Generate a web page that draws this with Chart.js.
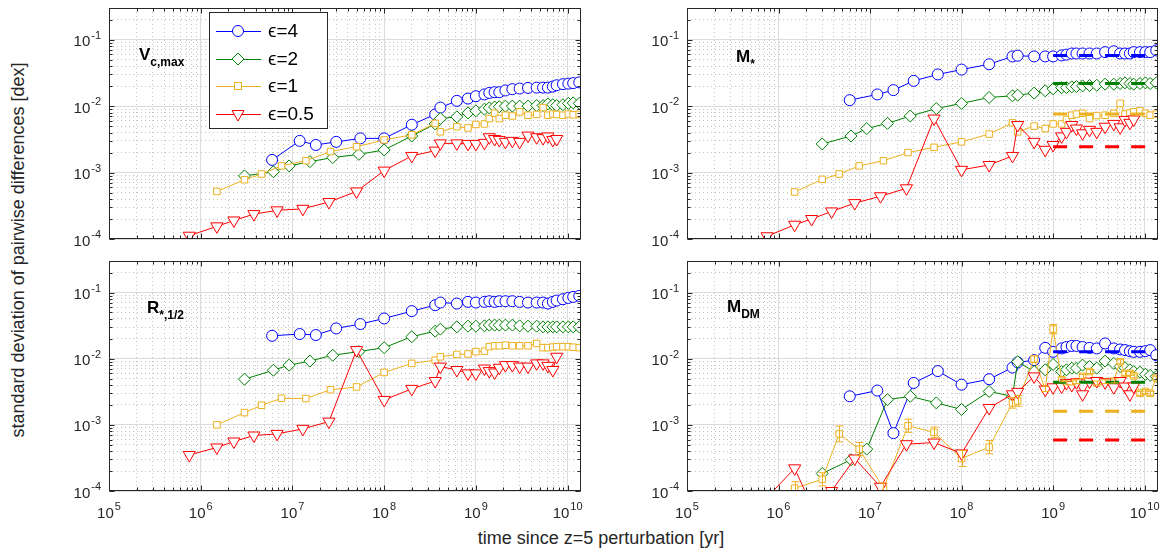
<!DOCTYPE html>
<html>
<head>
<meta charset="utf-8">
<script src="https://cdn.jsdelivr.net/npm/chart.js@4.4.1/dist/chart.umd.min.js"></script>
<style>
html, body { margin: 0; padding: 0; background: #fff; width: 1167px; height: 554px; overflow: hidden; position: relative;
  font-family: 'Liberation Sans', Arial, Helvetica, sans-serif; color: #000; }
canvas { position: absolute; }
.lab { position: absolute; font-weight: bold; font-size: 17px; line-height: 17px; white-space: nowrap; z-index: 2; }
.lab sub { font-size: 12px; vertical-align: -6px; line-height: 0; }
.title { position: absolute; font-size: 18px; white-space: nowrap; transform: translate(-50%, -50%); color: #262626; }
#legend { position: absolute; left: 209px; top: 12px; width: 117px; height: 115px; border: 1px solid #262626;
  background: #fff; z-index: 3; }
#legend .row { position: absolute; left: 0; height: 28px; width: 117px; }
#legend svg { position: absolute; left: 5px; top: 0; }
#legend span { position: absolute; left: 58px; top: 3px; font-size: 19px; line-height: 22px; }
</style>
</head>
<body>

<div class="title" style="left:601px; top:538px;">time since z=5 perturbation [yr]</div>
<div class="title" style="left:18px; top:250px; transform: translate(-50%, -50%) rotate(-90deg);">standard deviation of pairwise differences [dex]</div>

<div class="lab" style="left:139px; top:46px;">V<sub>c,max</sub></div>
<div class="lab" style="left:736px; top:48px;">M<sub>*</sub></div>
<div class="lab" style="left:147px; top:299px;">R<sub>*,1/2</sub></div>
<div class="lab" style="left:727px; top:298px;">M<sub>DM</sub></div>

<div id="legend"></div>

<script>
// snapshot times [yr] for each softening run
const tEps4 = [6e6, 1.2e7, 1.8e7, 3e7, 5.5e7, 1e8, 2e8, 3.6e8, 4.1e8, 6.2e8, 8.2e8, 1e9, 1.24e9, 1.4e9, 1.6e9, 1.8e9, 2.1e9, 2.5e9, 3e9, 3.7e9, 4.6e9, 5.4e9, 6.1e9, 6.9e9, 7.6e9, 8.9e9, 1.02e10, 1.15e10, 1.34e10];
const tEps2 = [3e6, 6.2e6, 9.2e6, 1.55e7, 2.75e7, 5.3e7, 1e8, 2e8, 3.6e8, 4.1e8, 6.2e8, 8.2e8, 1e9, 1.24e9, 1.4e9, 1.6e9, 1.8e9, 2.1e9, 2.5e9, 3e9, 3.7e9, 4.6e9, 5.4e9, 6.1e9, 6.9e9, 7.6e9, 8.9e9, 1.02e10, 1.15e10, 1.34e10];
const tEps1 = [1.5e6, 3e6, 4.6e6, 7.6e6, 1.4e7, 2.6e7, 5e7, 1e8, 2e8, 3.6e8, 4.1e8, 6.2e8, 8.2e8, 1e9, 1.24e9, 1.4e9, 1.6e9, 1.8e9, 2.1e9, 2.5e9, 3e9, 3.7e9, 4.6e9, 5.4e9, 6.1e9, 6.9e9, 7.6e9, 8.9e9, 1.02e10, 1.15e10, 1.34e10];
const tEps05 = [7.5e5, 1.5e6, 2.3e6, 3.8e6, 6.8e6, 1.3e7, 2.5e7, 5e7, 1e8, 2e8, 3.6e8, 4.1e8, 6.2e8, 8.2e8, 1e9, 1.24e9, 1.4e9, 1.6e9, 1.8e9, 2.1e9, 2.5e9, 3e9, 3.7e9, 4.6e9, 5.4e9, 6.1e9, 6.9e9, 7.6e9];

// V_c,max
const vcEps4 = [1.55e-3, 3.0e-3, 2.6e-3, 2.9e-3, 3.27e-3, 3.27e-3, 5.25e-3, 7.5e-3, 9.5e-3, 0.012, 0.013, 0.0141, 0.015, 0.0158, 0.0162, 0.0162, 0.0172, 0.018, 0.0184, 0.0188, 0.019, 0.019, 0.019, 0.0197, 0.0206, 0.0214, 0.0218, 0.0222, 0.0228];
const vcEps2 = [8.9e-4, 1.03e-3, 1.26e-3, 1.46e-3, 1.68e-3, 1.88e-3, 2.19e-3, 3.55e-3, 5.4e-3, 6.5e-3, 6.9e-3, 7.9e-3, 8.5e-3, 9.0e-3, 9.4e-3, 9.7e-3, 9.8e-3, 0.01, 0.01, 0.01, 0.01, 0.0102, 0.0102, 0.0108, 0.0105, 0.0102, 0.0105, 0.011, 0.0112, 0.011];
const vcEps1 = [5.2e-4, 7.8e-4, 9.5e-4, 1.26e-3, 1.51e-3, 2.07e-3, 2.45e-3, 3.1e-3, 3.7e-3, 5.5e-3, 4.1e-3, 4.9e-3, 4.7e-3, 5.3e-3, 5.4e-3, 6.5e-3, 7.8e-3, 6.5e-3, 7.3e-3, 7.1e-3, 8.2e-3, 7.3e-3, 7.5e-3, 9.5e-3, 7.3e-3, 7.6e-3, 7.5e-3, 7.3e-3, 7.6e-3, 7.4e-3, 7.5e-3];
const vcEps05 = [1.12e-4, 1.55e-4, 1.9e-4, 2.37e-4, 2.7e-4, 2.85e-4, 3.6e-4, 5.2e-4, 1.07e-3, 1.78e-3, 2.14e-3, 2.75e-3, 2.75e-3, 2.7e-3, 2.7e-3, 2.8e-3, 3.4e-3, 3.2e-3, 3.1e-3, 2.9e-3, 3.0e-3, 2.9e-3, 3.6e-3, 3.4e-3, 3.3e-3, 3.5e-3, 3.1e-3, 3.2e-3];

// M_*
const msEps4 = [0.0123, 0.015, 0.0174, 0.024, 0.030, 0.0355, 0.0427, 0.056, 0.0575, 0.056, 0.056, 0.056, 0.058, 0.0596, 0.062, 0.062, 0.062, 0.062, 0.062, 0.065, 0.067, 0.062, 0.062, 0.062, 0.065, 0.065, 0.065, 0.065, 0.069];
const msEps2 = [2.7e-3, 3.55e-3, 4.6e-3, 5.5e-3, 7.1e-3, 9.2e-3, 0.011, 0.0135, 0.0143, 0.0146, 0.0157, 0.017, 0.0182, 0.019, 0.019, 0.0195, 0.0197, 0.0202, 0.0204, 0.0206, 0.0214, 0.0214, 0.0219, 0.0224, 0.0219, 0.0214, 0.0219, 0.0224, 0.0219, 0.0224];
const msEps1 = [5.1e-4, 7.9e-4, 9.5e-4, 1.26e-3, 1.51e-3, 2.0e-3, 2.4e-3, 2.9e-3, 3.8e-3, 5.6e-3, 4.1e-3, 5.0e-3, 4.6e-3, 5.4e-3, 5.4e-3, 6.3e-3, 7.3e-3, 7.6e-3, 7.8e-3, 6.5e-3, 7.2e-3, 7.3e-3, 7.8e-3, 0.011, 7.6e-3, 7.9e-3, 8.2e-3, 8.5e-3, 7.8e-3, 7.3e-3, 7.6e-3];
const msEps05 = [1.1e-4, 1.64e-4, 2.0e-4, 2.6e-4, 3.47e-4, 4.4e-4, 5.8e-4, 6.5e-3, 1.1e-3, 1.3e-3, 1.78e-3, 5.2e-3, 2.9e-3, 2.2e-3, 2.6e-3, 3.5e-3, 4.1e-3, 5.2e-3, 4.6e-3, 3.9e-3, 4.4e-3, 4.1e-3, 4.9e-3, 5.4e-3, 4.8e-3, 6.2e-3, 5.6e-3, 6.3e-3];
const msFloor = [0.058, 0.022, 7.6e-3, 2.45e-3];

// R_*,1/2
const rsEps4 = [0.0222, 0.0236, 0.0228, 0.0287, 0.0334, 0.0406, 0.0524, 0.0644, 0.0706, 0.0682, 0.0723, 0.0706, 0.0723, 0.074, 0.0723, 0.074, 0.074, 0.074, 0.0723, 0.0706, 0.0706, 0.0706, 0.0682, 0.0723, 0.0757, 0.0793, 0.083, 0.086, 0.089];
const rsEps2 = [4.9e-3, 6.7e-3, 8.0e-3, 9.2e-3, 0.0113, 0.0128, 0.0147, 0.0215, 0.0261, 0.028, 0.0303, 0.031, 0.031, 0.0314, 0.0322, 0.0322, 0.0322, 0.0322, 0.0322, 0.0314, 0.031, 0.031, 0.0303, 0.0303, 0.0303, 0.0303, 0.0303, 0.0303, 0.0303, 0.0303];
const rsEps1 = [1.0e-3, 1.53e-3, 1.98e-3, 2.52e-3, 2.5e-3, 3.4e-3, 3.74e-3, 6.2e-3, 8.5e-3, 9.5e-3, 0.0107, 0.0116, 0.0118, 0.0128, 0.013, 0.0152, 0.0157, 0.0157, 0.016, 0.0157, 0.0157, 0.0157, 0.017, 0.0147, 0.0147, 0.015, 0.0152, 0.0152, 0.0152, 0.0149, 0.0147];
const rsEps05 = [3.5e-4, 4.55e-4, 5.6e-4, 6.9e-4, 7.3e-4, 8.7e-4, 1.12e-3, 0.0135, 2.38e-3, 3.5e-3, 4.6e-3, 7.6e-3, 6.75e-3, 6.0e-3, 6.0e-3, 7.1e-3, 6.5e-3, 6.2e-3, 7.3e-3, 8.0e-3, 8.0e-3, 7.6e-3, 7.6e-3, 8.5e-3, 8.5e-3, 7.8e-3, 6.75e-3, 0.0107];

// M_DM
const dmEps4 = [2.7e-3, 3.3e-3, 7.5e-4, 4.3e-3, 6.5e-3, 4.05e-3, 4.9e-3, 7.35e-3, 8.8e-3, 9.5e-3, 0.0146, 0.0127, 0.0143, 0.015, 0.0156, 0.0156, 0.015, 0.0146, 0.0143, 0.017, 0.0143, 0.0138, 0.0135, 0.013, 0.0127, 0.0127, 0.013, 0.0135, 0.0113];
const dmEps2 = [1.84e-4, 2.97e-4, 4.3e-4, 2.4e-3, 2.7e-3, 2.15e-3, 1.71e-3, 3.2e-3, 2.7e-3, 9.0e-3, 6.4e-3, 6.8e-3, 8.2e-3, 6.4e-3, 6.8e-3, 7.2e-3, 7.2e-3, 8.0e-3, 7.6e-3, 7.2e-3, 9.2e-3, 8.5e-3, 7.6e-3, 7.3e-3, 6.8e-3, 6.4e-3, 6.25e-3, 5.8e-3, 5.6e-3, 5.4e-3];
const dmEps1 = [1.1e-4, 1.5e-4, 7.3e-4, 4.3e-4, 1.1e-4, 9.7e-4, 7.7e-4, 3.1e-4, 4.6e-4, 2.15e-3, 2.3e-3, 9.9e-3, 3.5e-3, 0.028, 4.8e-3, 4.3e-3, 4.3e-3, 4.5e-3, 5.4e-3, 6.4e-3, 4.3e-3, 4.5e-3, 4.6e-3, 9.0e-3, 6.0e-3, 6.0e-3, 5.5e-3, 3.0e-3, 3.2e-3, 3.0e-3, 5.1e-3];
const dmEps1Err = [0.1, 0.1, 0.12, 0.1, 0.08, 0.1, 0.08, 0.12, 0.1, 0.08, 0.08, 0.05, 0.04, 0.07, 0.03, 0.03, 0.03, 0.03, 0.03, 0.03, 0.03, 0.03, 0.03, 0.03, 0.03, 0.03, 0.03, 0.03, 0.03, 0.03, 0.03]; // dex
const dmEps05 = [8e-5, 2.2e-4, 6e-5, 1.0e-4, 3.1e-4, 1.16e-4, 5.1e-4, 5.4e-4, 3.7e-4, 1.8e-3, 2.9e-3, 3.15e-3, 5.4e-3, 3.4e-3, 3.7e-3, 3.8e-3, 4.3e-3, 4.0e-3, 4.4e-3, 2.9e-3, 4.5e-3, 4.6e-3, 4.4e-3, 3.7e-3, 4.6e-3, 3.8e-3, 2.9e-3, 3.8e-3];
const dmFloor = [0.0127, 4.4e-3, 1.6e-3, 5.9e-4];

const floorT = [1e9, 1.4e10];
const epsLabels = ['ϵ=4', 'ϵ=2', 'ϵ=1', 'ϵ=0.5'];

const xMin = 1e5, xMax = 1.4e10, yMin = 1e-4, yMax = 0.3;

const runs = [
    { t: tEps4, color: '#0000ff', style: 'circle', r: 5.5, rot: 0, order: 4 },
    { t: tEps2, color: '#008000', style: 'rectRot', r: 6, rot: 0, order: 3 },
    { t: tEps1, color: '#edb120', style: 'rect', r: 4.6, rot: 0, order: 2 },
    { t: tEps05, color: '#ff0000', style: 'triangle', r: 7, rot: 180, order: 1 }
];

const panels = [
    { rect: [109, 7, 581, 239], bottom: false, vals: [vcEps4, vcEps2, vcEps1, vcEps05] },
    { rect: [687, 7, 1158, 239], bottom: false, vals: [msEps4, msEps2, msEps1, msEps05], floor: msFloor },
    { rect: [109, 260, 581, 491], bottom: true, vals: [rsEps4, rsEps2, rsEps1, rsEps05] },
    { rect: [687, 260, 1158, 491], bottom: true, vals: [dmEps4, dmEps2, dmEps1, dmEps05], floor: dmFloor, err: [null, null, dmEps1Err, null] }
];

// 1..9 x 10^n ticks, 10^n flagged major
function logTicks(min, max) {
    const out = [];
    for (let e = Math.floor(Math.log10(min)); e <= Math.ceil(Math.log10(max)); e++) {
        for (let m = 1; m <= 9; m++) {
            const v = m * Math.pow(10, e);
            if (v >= min * 0.999 && v <= max * 1.001) out.push({ value: v, major: m === 1 });
        }
    }
    return out;
}

const FONT = "'Liberation Sans', Arial, 'DejaVu Sans', sans-serif";

// "10" with a raised exponent, matlab style, at each decade tick
const tickLabelPlugin = {
    id: 'declabels',
    afterDraw(chart, args, opts) {
        const { ctx, chartArea: a, scales: { x, y } } = chart;
        const base = '15px ' + FONT, small = '11px ' + FONT;
        const expOf = v => String(Math.round(Math.log10(v)));
        ctx.save();
        ctx.fillStyle = '#262626';
        ctx.textBaseline = 'alphabetic';
        ctx.textAlign = 'left';
        y.ticks.filter(tk => tk.major).forEach(tk => {
            const py = y.getPixelForValue(tk.value);
            const ex = expOf(tk.value);
            ctx.font = small; const ew = ctx.measureText(ex).width;
            ctx.font = base; const bw = ctx.measureText('10').width;
            const right = a.left - 8;
            ctx.fillText('10', right - ew - bw - 1, py + 6.5);
            ctx.font = small;
            ctx.fillText(ex, right - ew, py - 1);
        });
        if (opts.showX) {
            x.ticks.filter(tk => tk.major).forEach(tk => {
                const px = x.getPixelForValue(tk.value);
                const ex = expOf(tk.value);
                ctx.font = small; const ew = ctx.measureText(ex).width;
                ctx.font = base; const bw = ctx.measureText('10').width;
                const left = px - (bw + 1 + ew) / 2;
                ctx.fillText('10', left, a.bottom + 27);
                ctx.font = small;
                ctx.fillText(ex, left + bw + 1, a.bottom + 19);
            });
        }
        ctx.restore();
    }
};

// axes box with inward tick marks
const framePlugin = {
    id: 'frame',
    afterDraw(chart) {
        const { ctx, chartArea: a, scales: { x, y } } = chart;
        const L = Math.round(a.left) + 0.5, R = Math.round(a.right) - 0.5;
        const T = Math.round(a.top) + 0.5, B = Math.round(a.bottom) - 0.5;
        ctx.save();
        ctx.strokeStyle = '#262626';
        ctx.lineWidth = 1;
        ctx.beginPath();
        x.ticks.forEach(tk => {
            const px = Math.round(x.getPixelForValue(tk.value)) + 0.5;
            const len = tk.major ? 5 : 3;
            ctx.moveTo(px, B); ctx.lineTo(px, B - len);
            ctx.moveTo(px, T); ctx.lineTo(px, T + len);
        });
        y.ticks.forEach(tk => {
            const py = Math.round(y.getPixelForValue(tk.value)) + 0.5;
            const len = tk.major ? 5 : 3;
            ctx.moveTo(L, py); ctx.lineTo(L + len, py);
            ctx.moveTo(R, py); ctx.lineTo(R - len, py);
        });
        ctx.stroke();
        ctx.strokeRect(L, T, R - L, B - T);
        ctx.restore();
    }
};

const errPlugin = {
    id: 'errbars',
    afterDatasetsDraw(chart) {
        const { ctx, chartArea: a, scales: { x, y } } = chart;
        ctx.save();
        ctx.beginPath();
        ctx.rect(a.left, a.top, a.right - a.left, a.bottom - a.top);
        ctx.clip();
        chart.data.datasets.forEach(ds => {
            if (!ds.errDex) return;
            ctx.strokeStyle = ds.borderColor;
            ctx.lineWidth = 1;
            ctx.beginPath();
            ds.data.forEach((p, i) => {
                const e = ds.errDex[i];
                if (p.y == null || !e) return;
                const px = Math.round(x.getPixelForValue(p.x)) + 0.5;
                const y0 = y.getPixelForValue(p.y / Math.pow(10, e));
                const y1 = y.getPixelForValue(p.y * Math.pow(10, e));
                ctx.moveTo(px, y0); ctx.lineTo(px, y1);
                ctx.moveTo(px - 4, y0); ctx.lineTo(px + 4, y0);
                ctx.moveTo(px - 4, y1); ctx.lineTo(px + 4, y1);
            });
            ctx.stroke();
        });
        ctx.restore();
    }
};

function makePanel(p) {
    const [l, t, r, b] = p.rect;
    const padL = 60, padT = 7, padR = 10, padB = p.bottom ? 36 : 8;
    const cv = document.createElement('canvas');
    cv.width = (r - l) + padL + padR;
    cv.height = (b - t) + padT + padB;
    cv.style.left = (l - padL) + 'px';
    cv.style.top = (t - padT) + 'px';
    document.body.appendChild(cv);

    const datasets = [];
    if (p.floor) {
        p.floor.forEach((lev, k) => {
            datasets.push({
                data: floorT.map(tt => ({ x: tt, y: lev })),
                borderColor: runs[k].color,
                borderWidth: 3,
                borderDash: [14, 12],
                pointRadius: 0,
                order: 0
            });
        });
    }
    runs.forEach((run, k) => {
        datasets.push({
            data: run.t.map((tt, i) => ({ x: tt, y: p.vals[k][i] })),
            errDex: p.err ? p.err[k] : null,
            borderColor: run.color,
            backgroundColor: '#fff',
            borderWidth: 1,
            pointStyle: run.style,
            pointRadius: run.r,
            pointRotation: run.rot,
            pointBorderWidth: 1,
            pointBackgroundColor: '#fff',
            pointBorderColor: run.color,
            tension: 0,
            order: run.order
        });
    });

    const grid = {
        drawTicks: false,
        lineWidth: 1,
        color: c => (c.tick && c.tick.major) ? '#dcdcdc' : '#c4c4c4'
    };
    const border = {
        display: false,
        dash: c => (c.tick && !c.tick.major) ? [1, 3] : []
    };

    new Chart(cv, {
        type: 'line',
        data: { datasets },
        options: {
            responsive: false,
            animation: false,
            devicePixelRatio: 1,
            events: [],
            layout: { padding: { left: 0, top: padT, right: padR, bottom: 0 } },
            plugins: {
                legend: { display: false },
                tooltip: { enabled: false },
                declabels: { showX: p.bottom }
            },
            scales: {
                x: {
                    type: 'logarithmic',
                    min: xMin, max: xMax,
                    afterBuildTicks: s => { s.ticks = logTicks(xMin, xMax); },
                    afterFit: s => { s.height = padB; s.paddingLeft = 0; s.paddingRight = 0; },
                    grid, border,
                    ticks: { display: false, autoSkip: false }
                },
                y: {
                    type: 'logarithmic',
                    min: yMin, max: yMax,
                    afterBuildTicks: s => { s.ticks = logTicks(yMin, yMax); },
                    afterFit: s => { s.width = padL; s.paddingTop = 0; s.paddingBottom = 0; },
                    grid, border,
                    ticks: { display: false, autoSkip: false }
                }
            }
        },
        plugins: [errPlugin, framePlugin, tickLabelPlugin]
    });
}

panels.forEach(makePanel);

// legend box (line + marker)
const legend = document.getElementById('legend');
const markerSvg = [
    c => `<circle cx="23" cy="14" r="5.5" fill="#fff" stroke="${c}"/>`,
    c => `<polygon points="23,8 29,14 23,20 17,14" fill="#fff" stroke="${c}"/>`,
    c => `<rect x="19.5" y="10.5" width="7" height="7" fill="#fff" stroke="${c}"/>`,
    c => `<polygon points="23,21 29,10.5 17,10.5" fill="#fff" stroke="${c}"/>`
];
runs.forEach((run, k) => {
    const row = document.createElement('div');
    row.className = 'row';
    row.style.top = (4 + k * 27.5) + 'px';
    row.innerHTML = `<svg width="50" height="28"><line x1="1" y1="14.5" x2="46" y2="14.5" stroke="${run.color}" stroke-width="1"/>${markerSvg[k](run.color)}</svg><span>${epsLabels[k]}</span>`;
    legend.appendChild(row);
});
</script>
</body>
</html>
